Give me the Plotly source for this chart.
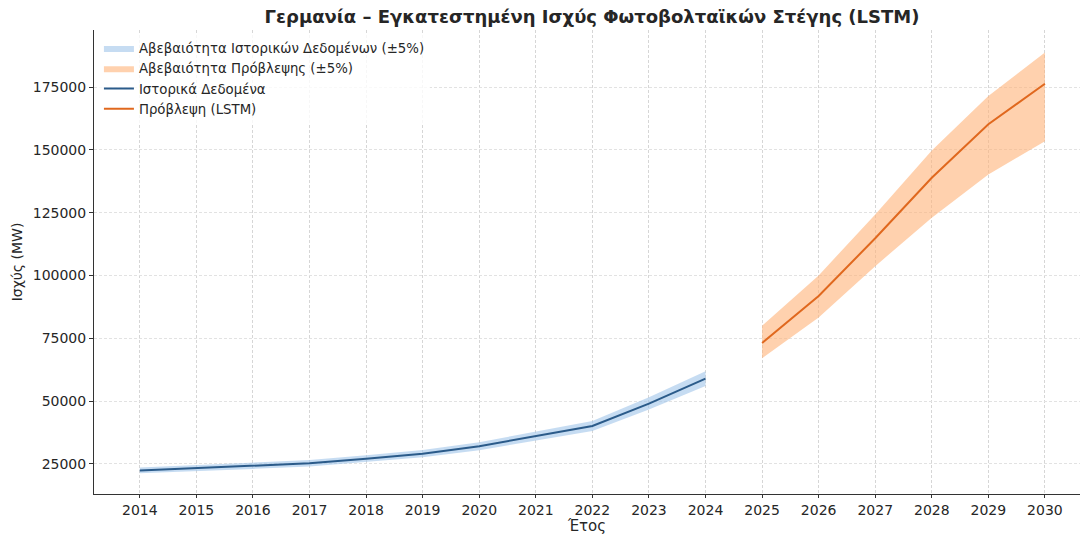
import plotly.graph_objects as go

# Historical rooftop PV capacity in Germany (MW)
hist_years = [2014, 2015, 2016, 2017, 2018, 2019, 2020, 2021, 2022, 2023, 2024]
hist_values = [22400, 23300, 24200, 25200, 27000, 29000, 32000, 35900, 40100, 49000, 58900]
hist_upper = [23500, 24500, 25400, 26500, 28400, 30500, 33600, 37700, 42100, 51500, 61900]
hist_lower = [21300, 22100, 23000, 23900, 25700, 27600, 30400, 34100, 38100, 46600, 56000]

# LSTM forecast (MW)
fc_years = [2025, 2026, 2027, 2028, 2029, 2030]
fc_values = [73100, 91800, 114800, 138900, 160200, 176300]
fc_upper = [80000, 100000, 124300, 149700, 171400, 188700]
fc_lower = [67000, 83300, 103700, 123000, 140200, 153400]

year_ticks = list(range(2014, 2031))
y_ticks = [25000, 50000, 75000, 100000, 125000, 150000, 175000]

FONT = "DejaVu Sans"
TXT = "#262626"

fig = go.Figure()

fig.add_trace(go.Scatter(
    x=hist_years + hist_years[::-1],
    y=hist_upper + hist_lower[::-1],
    fill="toself", fillcolor="rgba(160,196,234,0.6)",
    line=dict(width=0), mode="lines", hoverinfo="skip",
    name="Αβεβαιότητα Ιστορικών Δεδομένων (±5%)",
))
fig.add_trace(go.Scatter(
    x=fc_years + fc_years[::-1],
    y=fc_upper + fc_lower[::-1],
    fill="toself", fillcolor="rgba(255,178,120,0.6)",
    line=dict(width=0), mode="lines", hoverinfo="skip",
    name="Αβεβαιότητα Πρόβλεψης (±5%)",
))
fig.add_trace(go.Scatter(
    x=hist_years, y=hist_values, mode="lines",
    line=dict(color="#2b5b8a", width=2),
    name="Ιστορικά Δεδομένα",
))
fig.add_trace(go.Scatter(
    x=fc_years, y=fc_values, mode="lines",
    line=dict(color="#e0681e", width=2),
    name="Πρόβλεψη (LSTM)",
))

fig.update_layout(
    width=1080, height=535,
    margin=dict(l=94, r=0, t=30, b=41),
    paper_bgcolor="white", plot_bgcolor="white",
    font=dict(family=FONT, color=TXT, size=14),
    title=dict(
        text="<b>Γερμανία – Εγκατεστημένη Ισχύς Φωτοβολταϊκών Στέγης (LSTM)</b>",
        x=592 / 1080, xref="container", xanchor="center",
        y=1 - 17 / 535, yref="container", yanchor="middle",
        font=dict(family=FONT, size=18, color=TXT),
    ),
    legend=dict(
        x=0.005, y=0.994, xanchor="left", yanchor="top",
        bgcolor="rgba(255,255,255,0.8)", borderwidth=0,
        font=dict(family=FONT, size=13.3, color=TXT),
        traceorder="normal", itemwidth=30, tracegroupgap=0,
    ),
    showlegend=True,
)

fig.update_xaxes(
    range=[2013.19, 2030.62],
    tickmode="array", tickvals=year_ticks, ticktext=[str(y) for y in year_ticks],
    showgrid=True, gridcolor="#d6d6d6", griddash="3px,2px", gridwidth=0.8,
    showline=True, linecolor="#333333", linewidth=1,
    ticks="outside", ticklen=3, tickcolor="#333333",
    tickfont=dict(family=FONT, size=14, color=TXT),
    title=dict(text="Έτος", font=dict(family=FONT, size=15, color=TXT), standoff=6),
    zeroline=False,
)
fig.update_yaxes(
    range=[13000, 197700],
    tickmode="array", tickvals=y_ticks, ticktext=[str(v) for v in y_ticks],
    showgrid=True, gridcolor="#e2e2e2", griddash="3px,2px", gridwidth=0.8,
    showline=True, linecolor="#333333", linewidth=1,
    ticks="outside", ticklen=4, tickcolor="#333333",
    tickfont=dict(family=FONT, size=14, color=TXT),
    title=dict(text="Ισχύς (MW)", font=dict(family=FONT, size=14, color=TXT), standoff=6),
    zeroline=False,
)

fig.write_html("out.html")
